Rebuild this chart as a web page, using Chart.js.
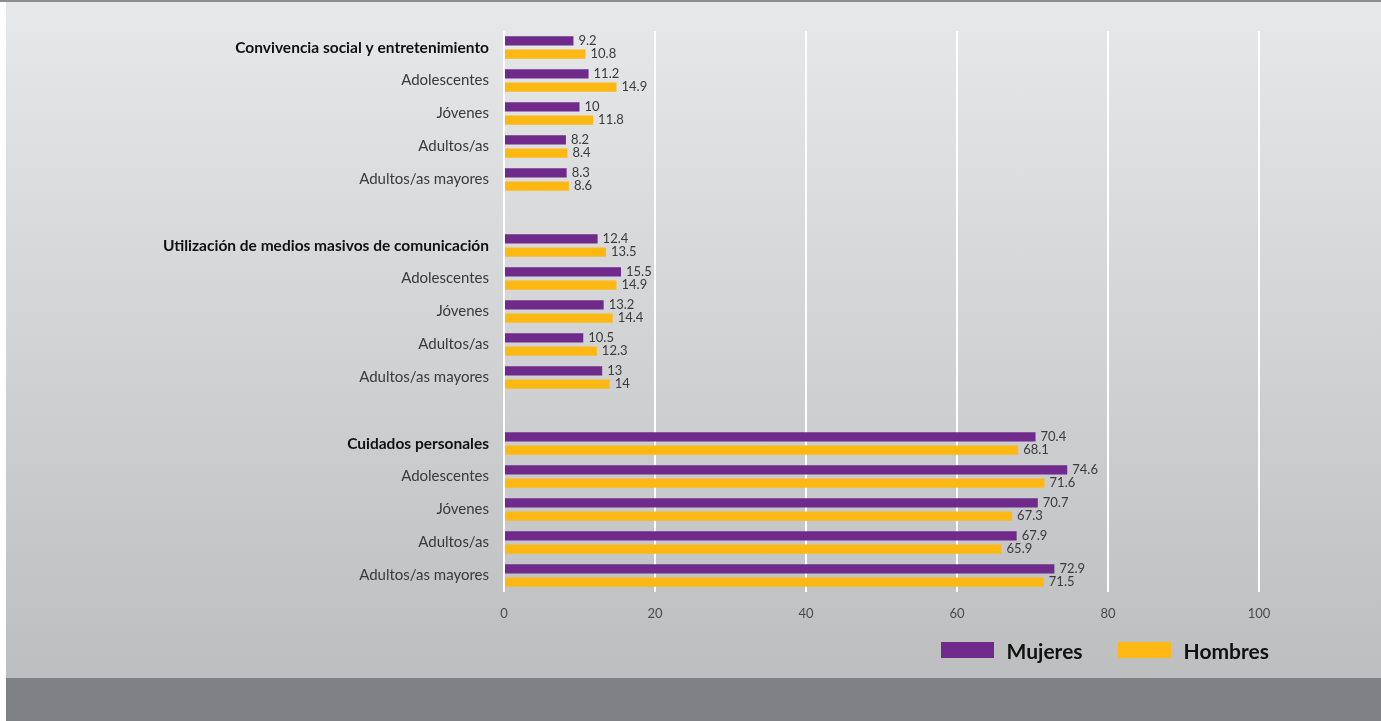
<!DOCTYPE html>
<html>
<head>
<meta charset="utf-8">
<script src="https://cdn.jsdelivr.net/npm/chart.js@4"></script>
<style>
  html, body { margin: 0; padding: 0; background: #fff; }
  body { width: 1381px; height: 721px; position: relative; overflow: hidden; font-family: Lato, sans-serif; }
  #topline { position: absolute; left: 0; top: 0; width: 1381px; height: 2px; background: #8c8d90; }
  #panel { position: absolute; left: 6px; top: 2px; width: 1375px; height: 676px; background: linear-gradient(#e7e8ea, #bdbec0); }
  #band { position: absolute; left: 6px; top: 678px; width: 1375px; height: 43px; background: #808184; }
  #chart { position: absolute; left: 6px; top: 2px; }
  #legend { position: absolute; right: 112px; top: 636px; height: 28px; display: flex; align-items: center; }
  #legend .item { display: flex; align-items: center; margin-left: 35px; }
  #legend .box { width: 53px; height: 16px; margin-right: 13px; }
  #legend .txt { font-size: 21px; font-weight: bold; color: #111; }
</style>
</head>
<body>
<div id="topline"></div>
<div id="panel"></div>
<div id="band"></div>
<canvas id="chart" width="1375" height="676"></canvas>
<div id="legend"></div>
<script>
// categories (empty strings are the gaps between blocks)
const categories = [
  'Convivencia social y entretenimiento', 'Adolescentes', 'Jóvenes', 'Adultos/as', 'Adultos/as mayores',
  '',
  'Utilización de medios masivos de comunicación', 'Adolescentes', 'Jóvenes', 'Adultos/as', 'Adultos/as mayores',
  '',
  'Cuidados personales', 'Adolescentes', 'Jóvenes', 'Adultos/as', 'Adultos/as mayores'
];
const headings = [0, 6, 12];

const mujeres = [9.2, 11.2, 10, 8.2, 8.3, null, 12.4, 15.5, 13.2, 10.5, 13, null, 70.4, 74.6, 70.7, 67.9, 72.9];
const hombres = [10.8, 14.9, 11.8, 8.4, 8.6, null, 13.5, 14.9, 14.4, 12.3, 14, null, 68.1, 71.6, 67.3, 65.9, 71.5];

const xTicks = [0, 20, 40, 60, 80, 100];

const purple = '#702a8c';
const orange = '#fdb813';

// value labels at the end of each bar
const valueLabels = {
  id: 'valueLabels',
  afterDatasetsDraw(chart) {
    const ctx = chart.ctx;
    ctx.save();
    ctx.font = '13px Lato';
    ctx.fillStyle = '#3b3b3d';
    ctx.textAlign = 'left';
    ctx.textBaseline = 'middle';
    chart.data.datasets.forEach((ds, i) => {
      chart.getDatasetMeta(i).data.forEach((bar, j) => {
        const v = ds.data[j];
        if (v === null) return;
        ctx.fillText(String(v), bar.x + 5, bar.y);
      });
    });
    ctx.restore();
  }
};

const chart = new Chart(document.getElementById('chart'), {
  type: 'bar',
  data: {
    labels: categories,
    datasets: [
      { label: 'Mujeres', data: mujeres, backgroundColor: purple },
      { label: 'Hombres', data: hombres, backgroundColor: orange }
    ]
  },
  options: {
    indexAxis: 'y',
    responsive: false,
    animation: false,
    categoryPercentage: 0.8,
    barPercentage: 0.7,
    layout: {
      padding: { left: 0, right: 122, top: 29, bottom: 56 }
    },
    plugins: {
      legend: { display: false }, // drawn as html below
      tooltip: { enabled: false }
    },
    scales: {
      x: {
        min: 0,
        max: 100,
        afterBuildTicks: (scale) => { scale.ticks = xTicks.map(v => ({ value: v })); },
        afterFit: (scale) => { scale.height = 30; },
        grid: { color: '#ffffff', lineWidth: 2, drawTicks: false },
        border: { display: false },
        ticks: {
          padding: 14,
          color: '#4a4a4c',
          font: { family: 'Lato', size: 13 }
        }
      },
      y: {
        afterFit: (scale) => { scale.width = 498; },
        grid: { display: false, drawTicks: false },
        border: { display: false },
        ticks: {
          padding: 15,
          autoSkip: false,
          color: (c) => headings.includes(c.index) ? '#111111' : '#3a3a3c',
          font: (c) => headings.includes(c.index)
            ? { family: 'Lato', size: 15.5, weight: 'bold' }
            : { family: 'Lato', size: 15 }
        }
      }
    }
  },
  plugins: [valueLabels]
});

// legend
const legend = document.getElementById('legend');
chart.data.datasets.forEach(ds => {
  const item = document.createElement('div');
  item.className = 'item';
  const box = document.createElement('div');
  box.className = 'box';
  box.style.background = ds.backgroundColor;
  const txt = document.createElement('span');
  txt.className = 'txt';
  txt.textContent = ds.label;
  item.appendChild(box);
  item.appendChild(txt);
  legend.appendChild(item);
});
</script>
</body>
</html>
